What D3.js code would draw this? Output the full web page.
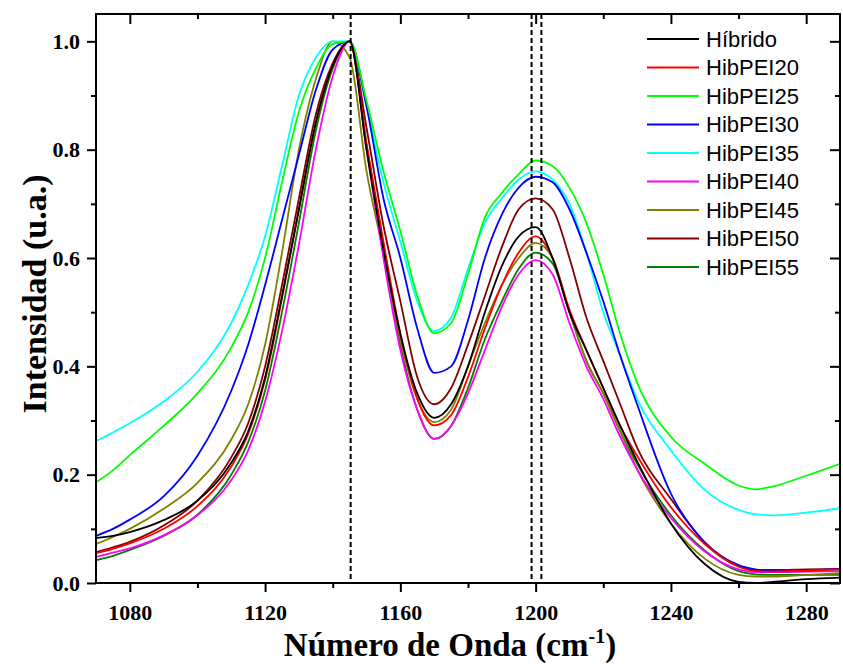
<!DOCTYPE html>
<html>
<head>
<meta charset="utf-8">
<style>
    body { margin: 0; background: #fff; }
    text { fill: #000; }
</style>
</head>
<body>
<svg id="chart" width="843" height="664"></svg>

<script src="https://d3js.org/d3.v7.min.js"></script>
<script>
    // wavenumber grid (cm-1)
    let waveNum = [1070, 1075, 1080, 1090, 1100, 1110, 1115, 1120, 1125, 1130, 1135, 1140, 1145,
        1150, 1155, 1160, 1165, 1170, 1175, 1180, 1185, 1190, 1195, 1200, 1205, 1210, 1215,
        1220, 1225, 1230, 1240, 1250, 1260, 1265, 1270, 1280, 1290]

    let hibrido = [0.083, 0.087, 0.094, 0.116, 0.152, 0.222, 0.28, 0.38, 0.53, 0.69, 0.85, 0.955, 1.0,
        0.80, 0.615, 0.46, 0.35, 0.305, 0.33, 0.40, 0.50, 0.585, 0.64, 0.657, 0.60, 0.50, 0.43,
        0.36, 0.29, 0.225, 0.11, 0.035, 0.002, 0.0, 0.002, 0.007, 0.01]
    let hibPEI20 = [0.055, 0.063, 0.073, 0.10, 0.142, 0.215, 0.275, 0.375, 0.525, 0.69, 0.85, 0.955, 1.0,
        0.81, 0.63, 0.46, 0.34, 0.291, 0.31, 0.38, 0.47, 0.55, 0.61, 0.64, 0.60, 0.505, 0.43,
        0.36, 0.29, 0.235, 0.14, 0.072, 0.03, 0.022, 0.021, 0.023, 0.025]
    let hibPEI25 = [0.186, 0.208, 0.236, 0.29, 0.35, 0.435, 0.50, 0.60, 0.74, 0.87, 0.95, 0.995, 1.0,
        0.89, 0.76, 0.65, 0.53, 0.461, 0.48, 0.57, 0.675, 0.72, 0.755, 0.78, 0.77, 0.73, 0.665,
        0.57, 0.46, 0.37, 0.27, 0.22, 0.18, 0.173, 0.178, 0.198, 0.22]
    let hibPEI30 = [0.087, 0.10, 0.117, 0.16, 0.235, 0.355, 0.44, 0.55, 0.67, 0.79, 0.91, 0.985, 1.0,
        0.88, 0.71, 0.60, 0.47, 0.388, 0.40, 0.485, 0.60, 0.68, 0.73, 0.75, 0.74, 0.69, 0.61,
        0.52, 0.42, 0.33, 0.165, 0.075, 0.033, 0.025, 0.022, 0.023, 0.026]
    let hibPEI35 = [0.262, 0.278, 0.295, 0.335, 0.39, 0.48, 0.55, 0.64, 0.77, 0.90, 0.97, 1.0, 1.0,
        0.88, 0.74, 0.63, 0.52, 0.465, 0.49, 0.58, 0.665, 0.71, 0.745, 0.76, 0.745, 0.70, 0.61,
        0.50, 0.42, 0.34, 0.245, 0.172, 0.135, 0.127, 0.125, 0.13, 0.138]
    let hibPEI40 = [0.048, 0.056, 0.064, 0.088, 0.125, 0.19, 0.245, 0.335, 0.465, 0.625, 0.80, 0.935, 1.0,
        0.80, 0.60, 0.43, 0.32, 0.266, 0.29, 0.35, 0.43, 0.51, 0.57, 0.596, 0.57, 0.48, 0.40,
        0.34, 0.27, 0.21, 0.12, 0.058, 0.025, 0.02, 0.02, 0.021, 0.022]
    let hibPEI45 = [0.072, 0.085, 0.10, 0.137, 0.185, 0.265, 0.33, 0.44, 0.61, 0.80, 0.93, 1.0, 0.97,
        0.76, 0.61, 0.45, 0.34, 0.297, 0.32, 0.40, 0.48, 0.55, 0.60, 0.628, 0.60, 0.50, 0.41,
        0.35, 0.28, 0.21, 0.11, 0.045, 0.015, 0.012, 0.012, 0.015, 0.018]
    let hibPEI50 = [0.057, 0.066, 0.076, 0.106, 0.152, 0.232, 0.295, 0.40, 0.55, 0.71, 0.865, 0.96, 1.0,
        0.84, 0.66, 0.52, 0.38, 0.330, 0.36, 0.44, 0.53, 0.62, 0.69, 0.71, 0.69, 0.60, 0.49,
        0.41, 0.33, 0.25, 0.155, 0.075, 0.032, 0.024, 0.024, 0.025, 0.026]
    let hibPEI55 = [0.042, 0.05, 0.061, 0.087, 0.126, 0.20, 0.26, 0.355, 0.50, 0.665, 0.835, 0.95, 1.0,
        0.81, 0.62, 0.44, 0.32, 0.266, 0.29, 0.36, 0.45, 0.52, 0.58, 0.61, 0.59, 0.50, 0.41,
        0.35, 0.28, 0.22, 0.125, 0.06, 0.022, 0.016, 0.015, 0.015, 0.015]

    let seriesNames = ['Híbrido', 'HibPEI20', 'HibPEI25', 'HibPEI30', 'HibPEI35',
        'HibPEI40', 'HibPEI45', 'HibPEI50', 'HibPEI55']
    let seriesValues = [hibrido, hibPEI20, hibPEI25, hibPEI30, hibPEI35,
        hibPEI40, hibPEI45, hibPEI50, hibPEI55]
    let seriesColors = ['#000000', '#ff0000', '#00ff00', '#0000ff', '#00ffff',
        '#ff00ff', '#808000', '#800000', '#008000']

    // reference lines (cm-1)
    let markLines = [1145.3, 1198.8, 1201.7]

    let xTicks = [1080, 1120, 1160, 1200, 1240, 1280]
    let xMinor = [1100, 1140, 1180, 1220, 1260]
    let yTicks = [0, 0.2, 0.4, 0.6, 0.8, 1.0]
    let yMinor = [0.1, 0.3, 0.5, 0.7, 0.9]

    let svg = d3.select('#chart')
    let pLeft = 96, pRight = 840, pTop = 14, pBottom = 583
    let serif = '"Palatino Linotype", "Book Antiqua", Palatino, "Liberation Serif", serif'

    let x = d3.scaleLinear().domain([1070, 1290]).range([pLeft, pRight])
    let y = d3.scaleLinear().domain([0, 1.0505]).range([pBottom, pTop])

    svg.append('clipPath').attr('id', 'clip')
        .append('rect').attr('x', pLeft).attr('y', pTop)
        .attr('width', pRight - pLeft).attr('height', pBottom - pTop)

    let line = d3.line()
        .x((d, i) => x(waveNum[i]))
        .y(d => y(d))
        .curve(d3.curveMonotoneX)

    let plot = svg.append('g').attr('clip-path', 'url(#clip)')

    // draw in reverse so black ends on top
    for (let k = seriesValues.length - 1; k >= 0; k--) {
        plot.append('path')
            .attr('d', line(seriesValues[k]))
            .attr('fill', 'none')
            .attr('stroke', seriesColors[k])
            .attr('stroke-width', 1.8)
    }

    markLines.forEach(v => {
        plot.append('line')
            .attr('x1', x(v)).attr('x2', x(v))
            .attr('y1', pTop).attr('y2', pBottom)
            .attr('stroke', '#000')
            .attr('stroke-width', 2)
            .attr('stroke-dasharray', '5,3')
    })

    // axes
    function styleAxis(g) {
        g.select('.domain').remove()
        g.selectAll('line').attr('stroke', '#000').attr('stroke-width', 2)
        g.selectAll('text')
            .attr('font-family', serif)
            .attr('font-weight', 'bold')
            .attr('font-size', 22)
    }

    svg.append('g').attr('transform', `translate(0,${pBottom})`)
        .call(d3.axisBottom(x).tickValues(xTicks).tickSize(9).tickPadding(12).tickFormat(d3.format('d')))
        .call(styleAxis)
    svg.append('g').attr('transform', `translate(0,${pBottom})`)
        .call(d3.axisBottom(x).tickValues(xMinor).tickSize(5).tickFormat(''))
        .call(styleAxis)
    svg.append('g').attr('transform', `translate(${pLeft},0)`)
        .call(d3.axisLeft(y).tickValues(yTicks).tickSize(9).tickPadding(7).tickFormat(d3.format('.1f')))
        .call(styleAxis)
    svg.append('g').attr('transform', `translate(${pLeft},0)`)
        .call(d3.axisLeft(y).tickValues(yMinor).tickSize(5).tickFormat(''))
        .call(styleAxis)

    // mirrored ticks, pointing inward
    svg.append('g').attr('transform', `translate(0,${pTop})`)
        .call(d3.axisTop(x).tickValues(xTicks).tickSize(-10).tickFormat(''))
        .call(styleAxis)
    svg.append('g').attr('transform', `translate(0,${pTop})`)
        .call(d3.axisTop(x).tickValues(xMinor).tickSize(-5).tickFormat(''))
        .call(styleAxis)
    svg.append('g').attr('transform', `translate(${pRight},0)`)
        .call(d3.axisRight(y).tickValues(yTicks).tickSize(-10).tickFormat(''))
        .call(styleAxis)
    svg.append('g').attr('transform', `translate(${pRight},0)`)
        .call(d3.axisRight(y).tickValues(yMinor).tickSize(-5).tickFormat(''))
        .call(styleAxis)

    svg.append('rect')
        .attr('x', pLeft).attr('y', pTop)
        .attr('width', pRight - pLeft).attr('height', pBottom - pTop)
        .attr('fill', 'none').attr('stroke', '#000').attr('stroke-width', 2)

    // axis titles
    let xTitle = svg.append('text')
        .attr('x', 450).attr('y', 656)
        .attr('text-anchor', 'middle')
        .attr('font-family', serif).attr('font-weight', 'bold').attr('font-size', 33)
    xTitle.append('tspan').text('Número de Onda (cm')
    xTitle.append('tspan').attr('dy', -13).attr('font-size', 20).text('-1')
    xTitle.append('tspan').attr('dy', 13).text(')')

    svg.append('text')
        .attr('transform', 'translate(46,294) rotate(-90)')
        .attr('text-anchor', 'middle')
        .attr('font-family', serif).attr('font-weight', 'bold').attr('font-size', 34)
        .text('Intensidad (u.a.)')

    // legend
    let legend = svg.append('g')
    seriesNames.forEach((name, i) => {
        let ly = 39 + i * 28.5
        legend.append('line')
            .attr('x1', 647).attr('x2', 699)
            .attr('y1', ly).attr('y2', ly)
            .attr('stroke', seriesColors[i]).attr('stroke-width', 1.8)
        legend.append('text')
            .attr('x', 706).attr('y', ly)
            .attr('dy', '0.36em')
            .attr('font-family', '"Liberation Sans", Arial, sans-serif')
            .attr('font-size', 22)
            .text(name)
    })
</script>
</body>
</html>
